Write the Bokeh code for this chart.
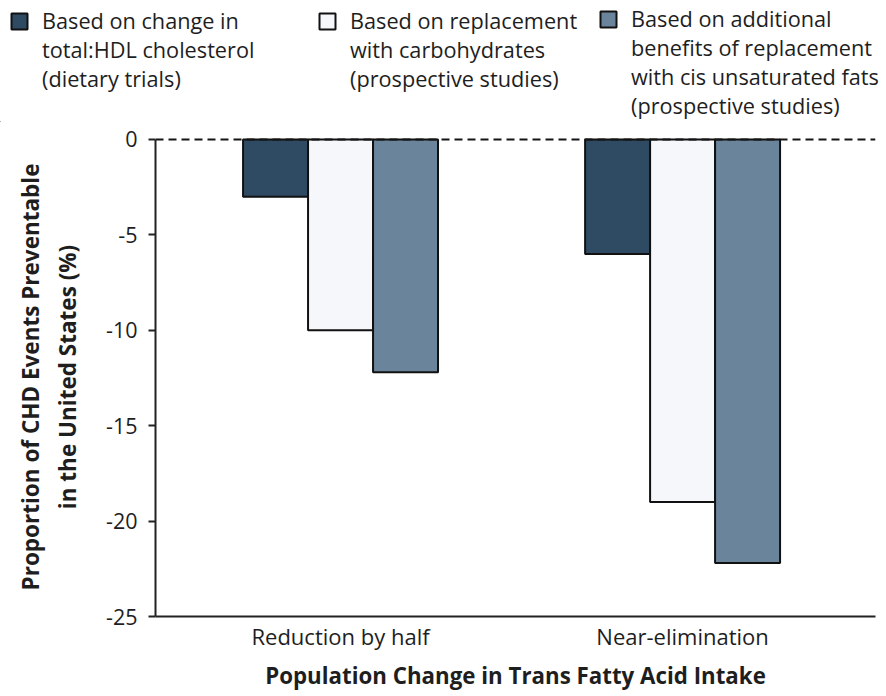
from bokeh.plotting import figure
from bokeh.layouts import column, row
from bokeh.models import Range1d, FixedTicker, Span, Legend, LegendItem, ColumnDataSource
from bokeh.embed import file_html
from bokeh.resources import INLINE

categories = ["Reduction by half", "Near-elimination"]
series_names = [
    "Based on change in\ntotal:HDL cholesterol\n(dietary trials)",
    "Based on replacement\nwith carbohydrates\n(prospective studies)",
    "Based on additional\nbenefits of replacement\nwith cis unsaturated fats\n(prospective studies)",
]
total_hdl = [-3.0, -6.0]
carbohydrates = [-10.0, -19.0]
cis_unsaturated = [-12.2, -22.2]
y_ticks = [0, -5, -10, -15, -20, -25]

series_values = [total_hdl, carbohydrates, cis_unsaturated]
colors = ["#2e4b63", "#f5f7fb", "#6a849b"]
offsets = [-0.19, 0.0, 0.19]
bar_width = 0.19

FONT = "Open Sans"
TXT = "#1e1e1e"
W = 884

# ---------- legend strip ----------
LH = 122
lp = figure(width=W, height=LH, output_backend="svg", toolbar_location=None,
            x_range=Range1d(0, W), y_range=Range1d(0, LH),
            x_axis_type=None, y_axis_type=None,
            min_border_left=0, min_border_right=0, min_border_top=0, min_border_bottom=0)
lp.outline_line_color = None
lp.xgrid.visible = False
lp.ygrid.visible = False

legend_x = [9, 317, 598]
legend_top = 13
for name, col, lx in zip(series_names, colors, legend_x):
    dummy = lp.vbar(x=[-100], top=[0], bottom=[0], width=0, fill_color=col,
                    line_color="#111111", line_width=2)
    first, rest = name.split("\n", 1)
    n_rest = rest.count("\n") + 1
    est_h = 26 + 27 * n_rest
    lg = Legend(items=[LegendItem(label=first, renderers=[dummy]),
                       LegendItem(label=rest, renderers=[])],
                location=(lx, LH - legend_top - est_h),
                padding=0, margin=0, spacing=0,
                border_line_color=None, background_fill_alpha=0,
                glyph_width=20, glyph_height=20, label_standoff=13,
                label_text_font=FONT, label_text_font_size="21.7px",
                label_text_color=TXT, label_text_line_height=1.05)
    lp.add_layout(lg)

# ---------- main chart ----------
p = figure(frame_width=720, frame_height=479, output_backend="svg", toolbar_location=None,
           x_range=Range1d(-0.541, 1.564), y_range=Range1d(-25, 0.1),
           min_border_left=155, min_border_top=15, min_border_right=W - 155 - 720, min_border_bottom=40)
p.outline_line_color = None
p.xgrid.visible = False
p.ygrid.visible = False
p.background_fill_color = "white"
p.border_fill_color = "white"

for vals, col, off in zip(series_values, colors, offsets):
    src = ColumnDataSource(dict(x=[i + off for i in range(len(categories))], top=[0] * len(vals), bottom=vals))
    p.vbar(x="x", top="top", bottom="bottom", width=bar_width, source=src,
           fill_color=col, line_color="#111111", line_width=2)

p.add_layout(Span(location=0, dimension="width", line_color="#141414", line_width=2, line_dash="8 5"))

ya = p.yaxis[0]
ya.bounds = (-25, 0)
ya.ticker = FixedTicker(ticks=y_ticks)
ya.major_label_overrides = {t: str(t) for t in y_ticks}
ya.minor_tick_line_color = None
ya.major_tick_out = 7
ya.major_tick_in = 0
ya.axis_line_width = 2
ya.major_tick_line_width = 2
ya.axis_line_color = "#222222"
ya.major_tick_line_color = "#222222"
ya.major_label_text_font = FONT
ya.major_label_text_font_size = "21.5px"
ya.major_label_text_color = TXT
ya.major_label_standoff = 11
ya.axis_label = "Proportion of CHD Events Preventable\nin the United States (%)"
ya.axis_label_text_font = FONT
ya.axis_label_text_font_style = "bold"
ya.axis_label_text_font_size = "22.5px"
ya.axis_label_text_color = TXT
ya.axis_label_standoff = 20

xa = p.xaxis[0]
xa.ticker = FixedTicker(ticks=list(range(len(categories))))
xa.major_label_overrides = {i: c for i, c in enumerate(categories)}
xa.minor_tick_line_color = None
xa.major_tick_line_color = None
xa.major_tick_out = 0
xa.axis_line_width = 2
xa.axis_line_color = "#222222"
xa.major_label_text_font = FONT
xa.major_label_text_font_size = "22px"
xa.major_label_text_color = TXT
xa.major_label_standoff = 4
xa.axis_label = "Population Change in Trans Fatty Acid Intake"
xa.axis_label_text_font = FONT
xa.axis_label_text_font_style = "bold"
xa.axis_label_text_font_size = "22.3px"
xa.axis_label_text_color = TXT
xa.axis_label_standoff = 6

layout = column(row(lp), p, spacing=0)
open("out.html", "w").write(file_html(layout, INLINE))
